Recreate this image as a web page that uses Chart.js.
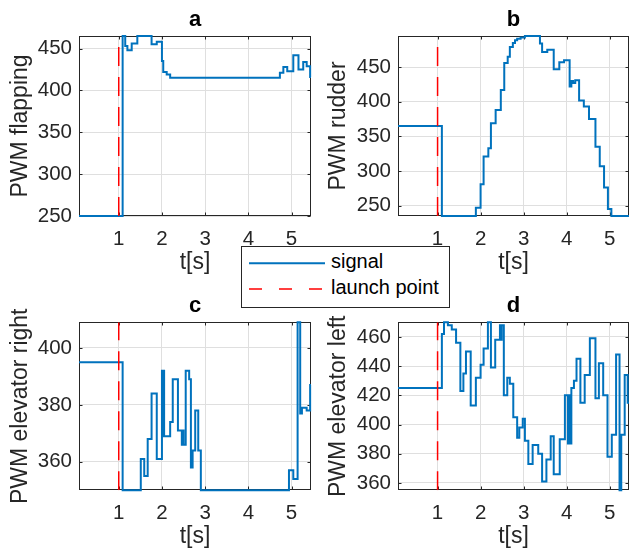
<!DOCTYPE html>
<html><head><meta charset="utf-8">
<script src="https://cdn.jsdelivr.net/npm/chart.js@4/dist/chart.umd.min.js"></script>
<style>
html,body{margin:0;padding:0;background:#fff;}
#wrap{position:relative;width:630px;height:558px;overflow:hidden;background:#fff;font-family:'Liberation Sans',Arial,Helvetica,sans-serif;}
#wrap canvas{position:absolute;}
#legend{position:absolute;left:241px;top:246px;width:207px;height:60px;border:1px solid #262626;background:#fff;z-index:5;color:#000;}
#legend svg{position:absolute;left:0;top:0;}
#legend .t{position:absolute;left:89px;font-size:20px;line-height:20px;white-space:nowrap;}
</style></head>
<body><div id="wrap">
<canvas id="ca" width="318" height="280" style="left:0;top:0;width:318px;height:280px"></canvas>
<canvas id="cb" width="312" height="280" style="left:318px;top:0;width:312px;height:280px"></canvas>
<canvas id="cc" width="318" height="278" style="left:0;top:280px;width:318px;height:278px"></canvas>
<canvas id="cd" width="312" height="278" style="left:318px;top:280px;width:312px;height:278px"></canvas>
<div id="legend">
<svg width="207" height="60">
<line x1="7" y1="16.3" x2="83" y2="16.3" stroke="#0072BD" stroke-width="2"/>
<line x1="7" y1="42" x2="83" y2="42" stroke="#FF0000" stroke-width="1.3" stroke-dasharray="13 17"/>
</svg>
<span class="t" style="top:4.3px">signal</span>
<span class="t" style="top:30.3px">launch point</span>
</div>
</div>
<script>
// ---- data ----
const launchTime = 1;
const xTickVals = [1, 2, 3, 4, 5];
const xRange = [0.08, 5.45];

const flapT = [0.08, 1.09, 1.15, 1.20, 1.30, 1.43, 1.76, 1.88, 2.00, 2.03, 2.11, 2.19, 4.73, 4.81, 4.90, 5.04, 5.16, 5.27, 5.35, 5.43, 5.45];
const flapV = [250, 465, 453, 448, 456, 465, 455, 458, 435, 422, 419, 415, 421, 428, 423, 442, 425, 434, 429, 416, 416];
const flapTicks = [250, 300, 350, 400, 450];

const rudT = [0.08, 1.10, 1.89, 2.00, 2.07, 2.18, 2.24, 2.35, 2.47, 2.55, 2.63, 2.68, 2.75, 2.80, 2.85, 2.93, 3.03, 3.38, 3.43, 3.55, 3.70, 3.83, 3.94, 4.07, 4.11, 4.15, 4.20, 4.29, 4.40, 4.52, 4.67, 4.77, 4.87, 4.96, 5.04, 5.45];
const rudV = [365, 235, 247, 281, 321, 333, 369, 388, 417, 456, 465, 479, 485, 489, 491, 493, 495, 484, 472, 475, 447, 457, 460, 422, 430, 427, 431, 402, 393, 375, 335, 307, 276, 245, 235, 235];
const rudTicks = [250, 300, 350, 400, 450];

const elRT = [0.08, 1.09, 1.51, 1.59, 1.67, 1.76, 1.88, 2.00, 2.02, 2.035, 2.05, 2.19, 2.25, 2.37, 2.46, 2.48, 2.50, 2.55, 2.63, 2.67, 2.71, 2.77, 2.84, 2.90, 4.94, 5.04, 5.14, 5.20, 5.24, 5.35, 5.43, 5.45];
const elRV = [395, 350, 361, 355, 368, 384, 361, 392, 369, 392, 369, 374, 389, 371, 366, 371, 366, 392, 389, 358, 364, 378, 364, 350, 357, 354, 409, 377, 379, 378, 387, 387];
const elRTicks = [360, 380, 400];

const elLT = [0.08, 1.10, 1.15, 1.24, 1.33, 1.43, 1.53, 1.60, 1.66, 1.77, 1.89, 2.00, 2.07, 2.17, 2.24, 2.34, 2.45, 2.47, 2.49, 2.54, 2.62, 2.68, 2.76, 2.85, 2.90, 2.98, 3.03, 3.11, 3.21, 3.34, 3.43, 3.53, 3.63, 3.70, 3.84, 3.96, 4.03, 4.06, 4.08, 4.11, 4.17, 4.23, 4.32, 4.42, 4.54, 4.67, 4.75, 4.85, 4.95, 5.05, 5.15, 5.23, 5.27, 5.35, 5.42, 5.45];
const elLV = [425, 462, 470, 468, 465, 456, 423, 435, 450, 413, 432, 441, 452, 470, 439, 458, 468, 458, 468, 420, 432, 428, 405, 391, 398, 404, 389, 373, 386, 380, 361, 376, 392, 366, 390, 420, 387, 420, 387, 425, 430, 445, 415, 434, 459, 418, 442, 420, 378, 393, 448, 355, 393, 434, 415, 415];
const elLTicks = [360, 380, 400, 420, 440, 460];

// ---- styling / layout ----
const FONT = "'Liberation Sans', Arial, Helvetica, sans-serif";
const AX = '#262626';
const GRID = '#dfdfdf';
const BLUE = '#0072BD';
const RED = '#FF0000';
const TICK_SIZE = 20.5;
const LABEL_SIZE = 23;

const boxPlugin = {
  id: 'matlabBox',
  beforeDatasetsDraw(chart) {
    const {ctx, chartArea: a, scales} = chart;
    const x = scales.x, y = scales.y;
    ctx.save();
    ctx.strokeStyle = AX; ctx.lineWidth = 1;
    const L = Math.round(a.left) + 0.5, R = Math.round(a.right) - 0.5;
    const T = Math.round(a.top) + 0.5, B = Math.round(a.bottom) - 0.5;
    ctx.strokeRect(L, T, R - L, B - T);
    ctx.beginPath();
    const tl = 3;
    x.ticks.forEach(tk => {
      const p = Math.round(x.getPixelForValue(tk.value)) + 0.5;
      ctx.moveTo(p, B); ctx.lineTo(p, B - tl);
      ctx.moveTo(p, T); ctx.lineTo(p, T + tl);
    });
    y.ticks.forEach(tk => {
      const p = Math.round(y.getPixelForValue(tk.value)) + 0.5;
      ctx.moveTo(L, p); ctx.lineTo(L + tl, p);
      ctx.moveTo(R, p); ctx.lineTo(R - tl, p);
    });
    ctx.stroke();
    ctx.restore();
  }
};

function panel(id, o) {
  const el = document.getElementById(id);
  const W = el.width, H = el.height;
  const titleLH = 22 * 1.2;
  const tTop = o.titleMid - titleLH / 2;
  const tBot = o.plotTop - tTop - titleLH;
  const xH = H - o.plotBottom;
  return new Chart(el, {
    type: 'line',
    data: {
      datasets: [
        { label: 'signal', data: o.t.map((t, i) => ({x: t, y: o.v[i]})), stepped: 'before',
          borderColor: BLUE, borderWidth: 2, pointRadius: 0, fill: false, order: 1, clip: 3 },
        { label: 'launch point', data: [{x: launchTime, y: o.yMin}, {x: launchTime, y: o.yMax}],
          borderColor: RED, borderWidth: 1.5, borderDash: [19, 11], pointRadius: 0, fill: false, order: 0 }
      ]
    },
    options: {
      responsive: false, animation: false, devicePixelRatio: 1,
      layout: { padding: { left: 0, top: 0, right: W - o.plotRight, bottom: 0 } },
      plugins: {
        legend: { display: false }, tooltip: { enabled: false },
        title: { display: true, text: o.title, fullSize: false, color: '#000',
                 font: { family: FONT, size: 22, weight: 'bold', lineHeight: 1.2 },
                 padding: { top: tTop, bottom: tBot } }
      },
      scales: {
        x: {
          type: 'linear', min: xRange[0], max: xRange[1],
          afterBuildTicks: s => { s.ticks = xTickVals.map(v => ({value: v})); },
          afterFit: s => { s.height = xH; },
          grid: { color: GRID, lineWidth: 1, drawTicks: false },
          border: { display: false },
          ticks: { color: AX, padding: 11, maxRotation: 0, font: { family: FONT, size: TICK_SIZE } },
          title: { display: true, text: 't[s]', color: AX, font: { family: FONT, size: LABEL_SIZE, lineHeight: 1.2 },
                   padding: { top: 0, bottom: o.xTitlePadB } }
        },
        y: {
          type: 'linear', min: o.yMin, max: o.yMax,
          afterBuildTicks: s => { s.ticks = o.yTicks.map(v => ({value: v})); },
          afterFit: s => { s.width = o.plotLeft; },
          grid: { color: GRID, lineWidth: 1, drawTicks: false },
          border: { display: false },
          ticks: { color: AX, padding: 7, font: { family: FONT, size: TICK_SIZE } },
          title: { display: true, text: o.ylabel, color: AX, font: { family: FONT, size: LABEL_SIZE, lineHeight: 1.2 },
                   padding: { top: o.yTitlePad, bottom: 0 } }
        }
      }
    },
    plugins: [boxPlugin]
  });
}

panel('ca', { title: 'a', ylabel: 'PWM flapping', t: flapT, v: flapV, yMin: 250, yMax: 465, yTicks: flapTicks,
  plotLeft: 79, plotRight: 311, plotTop: 36, plotBottom: 216, titleMid: 20, xTitlePadB: 4, yTitlePad: 7 });
panel('cb', { title: 'b', ylabel: 'PWM rudder', t: rudT, v: rudV, yMin: 235, yMax: 495, yTicks: rudTicks,
  plotLeft: 80, plotRight: 311, plotTop: 36, plotBottom: 216, titleMid: 20, xTitlePadB: 4, yTitlePad: 6.5 });
panel('cc', { title: 'c', ylabel: 'PWM elevator right', t: elRT, v: elRV, yMin: 350, yMax: 409, yTicks: elRTicks,
  plotLeft: 79, plotRight: 311, plotTop: 42.3, plotBottom: 210.3, titleMid: 26, xTitlePadB: 7.7, yTitlePad: 7 });
panel('cd', { title: 'd', ylabel: 'PWM elevator left', t: elLT, v: elLV, yMin: 355, yMax: 470, yTicks: elLTicks,
  plotLeft: 80, plotRight: 311, plotTop: 42.3, plotBottom: 210.3, titleMid: 26, xTitlePadB: 7.7, yTitlePad: 6.5 });
</script>
</body></html>
